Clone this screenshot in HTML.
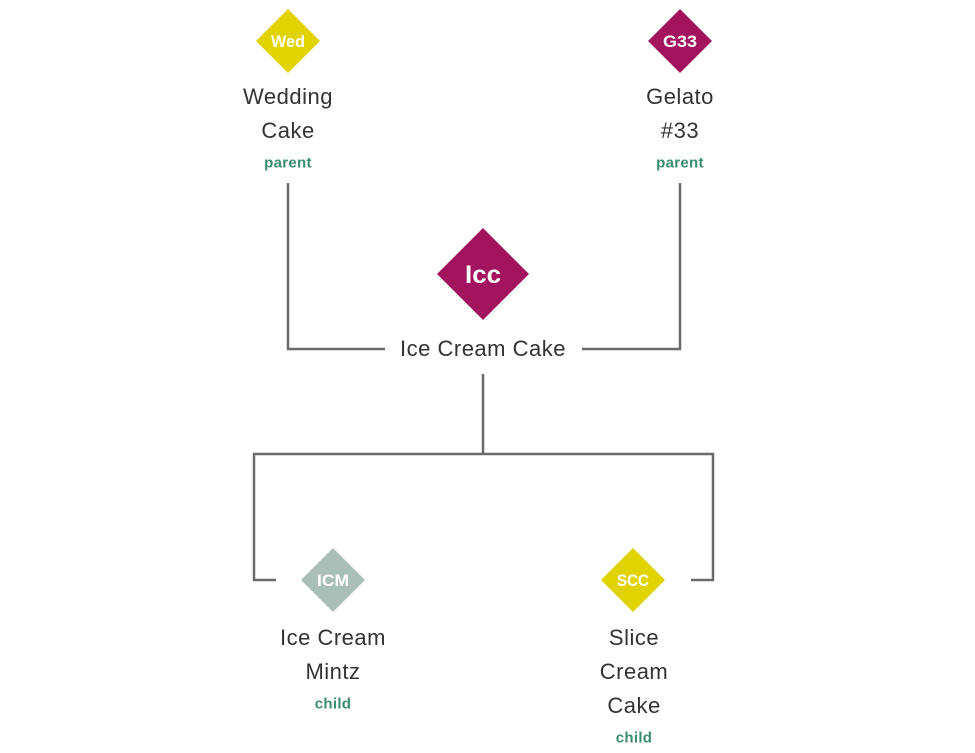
<!DOCTYPE html>
<html><head><meta charset="utf-8"><style>
html,body{margin:0;padding:0;background:#fff;}
body{width:975px;height:753px;position:relative;overflow:hidden;font-family:"Liberation Sans",sans-serif;}
.t{position:absolute;transform:translate(-50%,-50%);white-space:nowrap;color:#333;font-size:22px;letter-spacing:0.5px;}
.s{position:absolute;transform:translate(-50%,-50%);white-space:nowrap;color:#3b8c70;font-size:15px;font-weight:bold;letter-spacing:0.3px;}
</style></head><body>
<svg width="975" height="753" style="position:absolute;left:0;top:0">
<g fill="none" stroke="#6a6a6a" stroke-width="2.5">
<polyline points="288,183 288,349 385,349"/>
<polyline points="680,183 680,349 582,349"/>
<line x1="483" y1="374" x2="483" y2="454"/>
<polyline points="276,580 254,580 254,454 713,454 713,580 691,580"/>
</g>
<polygon points="288,9 320,41 288,73 256,41" fill="#e0d300"/>
<polygon points="680,9 712,41 680,73 648,41" fill="#a3145f"/>
<polygon points="483,228 529,274 483,320 437,274" fill="#a3145f"/>
<polygon points="333,548 365,580 333,612 301,580" fill="#aabfb7"/>
<polygon points="633,548 665,580 633,612 601,580" fill="#e0d300"/>
<g fill="#fff" font-family="Liberation Sans Narrow, Liberation Sans, sans-serif" font-weight="bold" text-anchor="middle">
<text x="288" y="47" font-size="17" textLength="34" lengthAdjust="spacingAndGlyphs">Wed</text>
<text x="680" y="47" font-size="17" textLength="34" lengthAdjust="spacingAndGlyphs">G33</text>
<text x="483" y="283" font-size="25" textLength="36" lengthAdjust="spacingAndGlyphs">Icc</text>
<text x="333" y="586" font-size="17" textLength="32" lengthAdjust="spacingAndGlyphs">ICM</text>
<text x="633" y="586" font-size="17" textLength="32" lengthAdjust="spacingAndGlyphs">SCC</text>
</g>
</svg>
<div class="t" style="left:288px;top:97px">Wedding</div>
<div class="t" style="left:288px;top:131px">Cake</div>
<div class="s" style="left:288px;top:163px">parent</div>
<div class="t" style="left:680px;top:97px">Gelato</div>
<div class="t" style="left:680px;top:131px">#33</div>
<div class="s" style="left:680px;top:163px">parent</div>
<div class="t" style="left:483px;top:349px">Ice Cream Cake</div>
<div class="t" style="left:333px;top:638px">Ice Cream</div>
<div class="t" style="left:333px;top:672px">Mintz</div>
<div class="s" style="left:333px;top:704px">child</div>
<div class="t" style="left:634px;top:638px">Slice</div>
<div class="t" style="left:634px;top:672px">Cream</div>
<div class="t" style="left:634px;top:706px">Cake</div>
<div class="s" style="left:634px;top:738px">child</div>
</body></html>
